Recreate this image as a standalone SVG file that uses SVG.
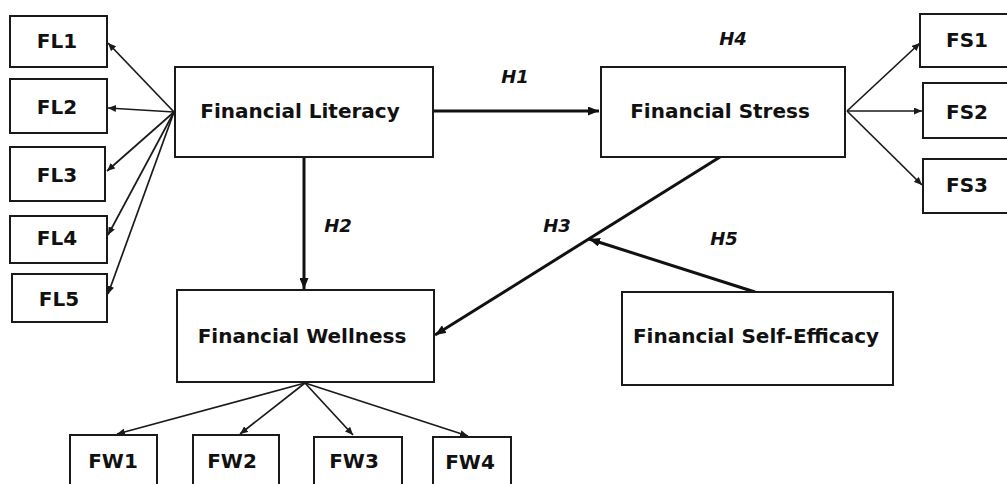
<svg xmlns="http://www.w3.org/2000/svg" width="1007" height="484" viewBox="0 0 1007 484">
<defs>
<style>
.box{fill:#fff;stroke:#1a1a1a;stroke-width:2}
.t{font-family:"DejaVu Sans",Verdana,sans-serif;font-weight:bold;fill:#111;text-anchor:middle}
.big{font-size:20px}
.sm{font-size:20px}
.h{font-family:"DejaVu Sans",Verdana,sans-serif;font-weight:bold;font-style:italic;font-size:18px;fill:#111;text-anchor:middle}
.thin{stroke:#1a1a1a;stroke-width:1.7;fill:none;marker-end:url(#ah)}
.thick{stroke:#111;stroke-width:3;fill:none;marker-end:url(#ahb)}
</style>
<marker id="ah" markerUnits="userSpaceOnUse" markerWidth="8" markerHeight="7" refX="8" refY="3.5" orient="auto"><path d="M0,0 L8,3.5 L0,7 z" fill="#1a1a1a"/></marker>
<marker id="ahb" markerUnits="userSpaceOnUse" markerWidth="11" markerHeight="9" refX="11" refY="4.5" orient="auto"><path d="M0,0 L11,4.5 L0,9 z" fill="#111"/></marker>
</defs>
<rect width="1007" height="484" fill="#fff"/>
<g id="connectors">
<line class="thin" x1="174" y1="112" x2="108" y2="43"/>
<line class="thin" x1="174" y1="112" x2="108" y2="108"/>
<line class="thin" x1="174" y1="112" x2="107" y2="171"/>
<line class="thin" x1="174" y1="112" x2="108" y2="235"/>
<line class="thin" x1="174" y1="112" x2="108" y2="294"/>
<line class="thin" x1="847" y1="111" x2="920" y2="43"/>
<line class="thin" x1="847" y1="111" x2="922" y2="111"/>
<line class="thin" x1="847" y1="111" x2="922" y2="185"/>
<line class="thin" x1="305" y1="383" x2="117" y2="434"/>
<line class="thin" x1="305" y1="383" x2="240" y2="434"/>
<line class="thin" x1="305" y1="383" x2="353" y2="435"/>
<line class="thin" x1="305" y1="383" x2="468" y2="436"/>
<line class="thick" x1="433" y1="111" x2="599" y2="111"/>
<line class="thick" x1="304" y1="157" x2="304" y2="289"/>
<line class="thick" x1="720" y1="157" x2="435" y2="335"/>
<line class="thick" x1="755" y1="292" x2="589" y2="239"/>
</g>
<g id="FL1"><rect class="box" x="10" y="16" width="97" height="51"/><text class="t sm" x="57" y="48">FL1</text></g>
<g id="FL2"><rect class="box" x="10" y="79" width="97" height="54"/><text class="t sm" x="57" y="114">FL2</text></g>
<g id="FL3"><rect class="box" x="10" y="147" width="95" height="54"/><text class="t sm" x="57" y="182">FL3</text></g>
<g id="FL4"><rect class="box" x="10" y="216" width="97" height="47"/><text class="t sm" x="57" y="245">FL4</text></g>
<g id="FL5"><rect class="box" x="12" y="274" width="95" height="48"/><text class="t sm" x="59" y="306">FL5</text></g>
<g id="financial-literacy"><rect class="box" x="175" y="67" width="258" height="90"/><text class="t big" x="300" y="118">Financial Literacy</text></g>
<g id="financial-stress"><rect class="box" x="601" y="67" width="244" height="90"/><text class="t big" x="720" y="118">Financial Stress</text></g>
<g id="FS1"><rect class="box" x="920" y="14" width="100" height="53"/><text class="t sm" x="967" y="47">FS1</text></g>
<g id="FS2"><rect class="box" x="923" y="83" width="100" height="55"/><text class="t sm" x="967" y="119">FS2</text></g>
<g id="FS3"><rect class="box" x="923" y="159" width="100" height="54"/><text class="t sm" x="967" y="192">FS3</text></g>
<g id="financial-wellness"><rect class="box" x="177" y="290" width="257" height="92"/><text class="t big" x="302" y="343">Financial Wellness</text></g>
<g id="financial-self-efficacy"><rect class="box" x="622" y="292" width="271" height="93"/><text class="t big" x="756" y="343">Financial Self-Efficacy</text></g>
<g id="FW1"><rect class="box" x="70" y="435" width="87" height="60"/><text class="t sm" x="113" y="468">FW1</text></g>
<g id="FW2"><rect class="box" x="193" y="435" width="86" height="60"/><text class="t sm" x="232" y="468">FW2</text></g>
<g id="FW3"><rect class="box" x="314" y="437" width="88" height="60"/><text class="t sm" x="354" y="468">FW3</text></g>
<g id="FW4"><rect class="box" x="433" y="437" width="78" height="60"/><text class="t sm" x="470" y="469">FW4</text></g>
<g id="labels">
<text class="h" x="515" y="83">H1</text>
<text class="h" x="338" y="232">H2</text>
<text class="h" x="557" y="232">H3</text>
<text class="h" x="733" y="45">H4</text>
<text class="h" x="724" y="245">H5</text>
</g>
</svg>
